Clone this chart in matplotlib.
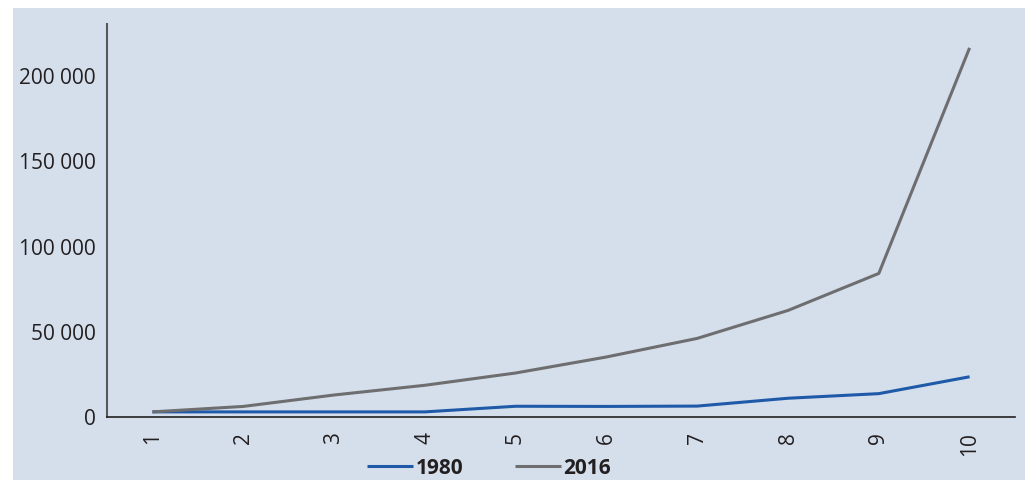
import matplotlib.pyplot as plt
from matplotlib.patches import Rectangle
from matplotlib.ticker import FuncFormatter

# ---------------- DATA ----------------
categories = ['1', '2', '3', '4', '5', '6', '7', '8', '9', '10']
values_1980 = [3000, 3000, 3000, 3000, 6300, 6200, 6400, 11000, 13700, 23600]
values_2016 = [3000, 6200, 12900, 18600, 25800, 35200, 46100, 62500, 84200, 216500]
yticks = [0, 50000, 100000, 150000, 200000]

BG = '#d5dfec'
BLUE = '#1f5aa8'
GRAY = '#6e6e70'

plt.rcParams['font.family'] = ['Open Sans', 'DejaVu Sans']

fig = plt.figure(figsize=(10.25, 4.8), dpi=100)
fig.patch.set_facecolor('white')
fig.patches.append(Rectangle((13/1025, 0), 1012/1025, 472/480,
                             transform=fig.transFigure, facecolor=BG,
                             edgecolor='none', zorder=-10))

ax = fig.add_axes([107/1025, 1 - 417/480, (1015 - 107)/1025, (417 - 24)/480])
ax.set_facecolor(BG)

x = list(range(1, len(categories) + 1))
ax.plot(x, values_1980, color=BLUE, lw=2.2, label='1980', solid_capstyle='butt')
ax.plot(x, values_2016, color=GRAY, lw=2.2, label='2016', solid_capstyle='butt')

ax.set_xlim(0.5, 10.5)
ax.set_ylim(0, 230500)
ax.set_xticks(x)
ax.set_xticklabels(categories, rotation=90)
ax.set_yticks(yticks)
ax.yaxis.set_major_formatter(FuncFormatter(lambda v, p: f'{int(v):,}'.replace(',', ' ')))

ax.tick_params(axis='both', length=0, labelsize=15, colors='#231f20')
ax.tick_params(axis='y', pad=8)
ax.tick_params(axis='x', pad=11)

for s in ['top', 'right']:
    ax.spines[s].set_visible(False)
ax.spines['left'].set_color('#58585a')
ax.spines['left'].set_linewidth(1.5)
ax.spines['bottom'].set_color('#231f20')
ax.spines['bottom'].set_linewidth(1.2)

leg = fig.legend(loc='center', bbox_to_anchor=(489/1025, 1 - 468/480), ncol=2,
                 frameon=False, prop={'weight': 'bold', 'size': 15},
                 handlelength=2.2, handletextpad=0.1, columnspacing=2.5,
                 borderpad=0.1)
for t in leg.get_texts():
    t.set_color('#231f20')

fig.savefig('out.png', dpi=100)
